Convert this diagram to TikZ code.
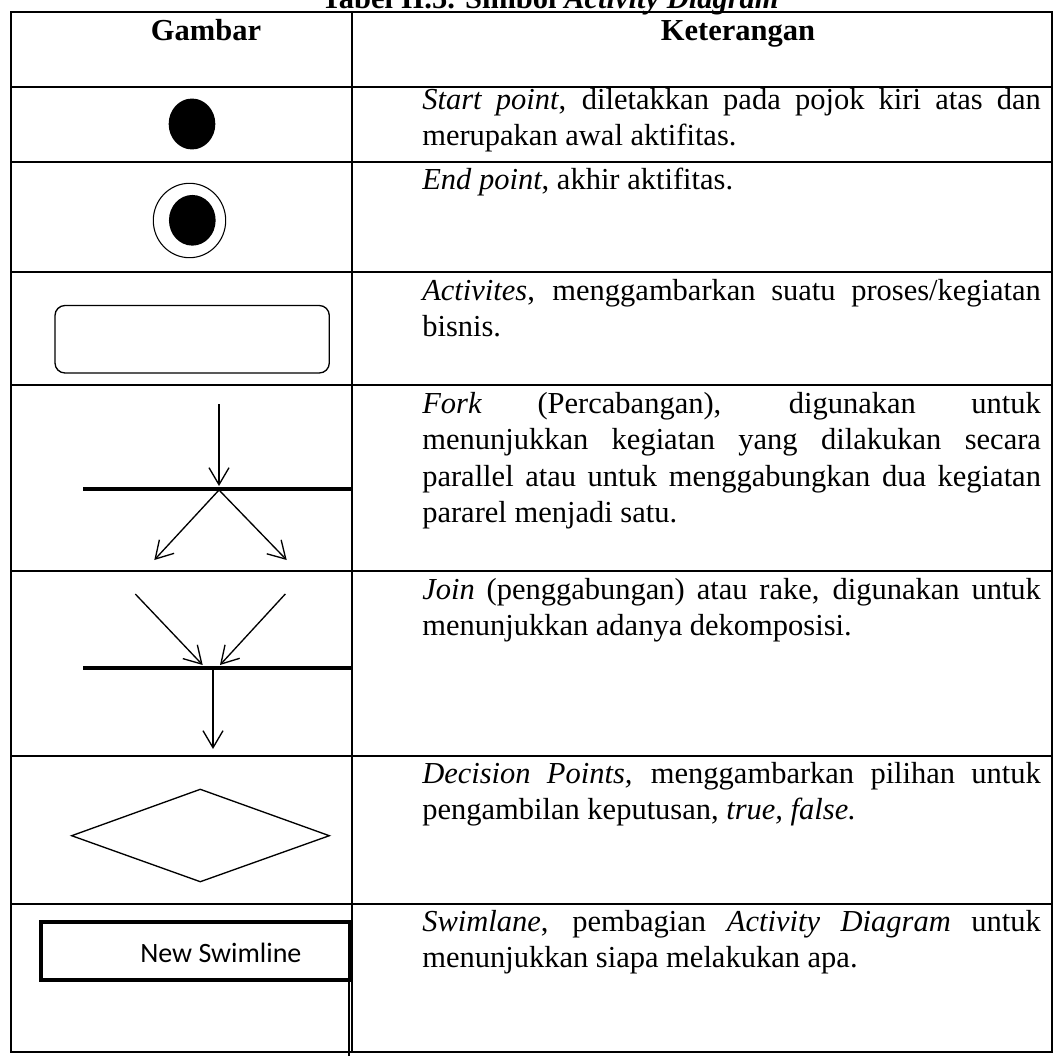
\documentclass[tikz,border=0pt]{standalone}
\usepackage{fontspec}
\setmainfont{Liberation Serif}
\newfontfamily\swimfont{Carlito}
\usetikzlibrary{arrows.meta,shapes.geometric}
\newcommand{\jl}[1]{{\spaceskip=0pt\xspaceskip=0pt\makebox[464pt][s]{#1}}}
\begin{document}
\begin{tikzpicture}[x=0.75pt,y=-0.75pt,
  grid/.style={line width=1.5pt},
  thinshape/.style={line width=1pt},
  barline/.style={line width=2.5pt},
  flow/.style={line width=1pt,-{Straight Barb[length=12.75pt,width=15pt]}},
  body/.style={anchor=north west, inner sep=0pt, text width=464pt, align=justify,
    font=\fontsize{22.875pt}{27.375pt}\selectfont},
  head/.style={anchor=base, inner sep=0pt, font=\fontsize{22.875pt}{27.375pt}\selectfont\bfseries}]
\useasboundingbox (0,0) rectangle (1054,1056);

% table grid
\draw[grid] (11,12) rectangle (1052,1052);
\draw[grid] (352,12) -- (352,1052);
\foreach \yy in {87,162,272,385,571,756,904} \draw[grid] (11,\yy) -- (1052,\yy);

% title and header
\node[head] (title) at (550,9) {Tabel II.5. Simbol \textit{Activity Diagram}};
\node[head] (gambar) at (206,41) {Gambar};
\node[head] (ket) at (738,41) {Keterangan};

% start point
\node[ellipse, fill=black, inner sep=0pt, minimum width=35pt, minimum height=38.2pt] (start) at (192,124) {};
% end point
\node[ellipse, draw, line width=0.8pt, inner sep=0pt, minimum width=54.3pt, minimum height=55.8pt] (endouter) at (189.5,220.5) {};
\node[ellipse, fill=black, inner sep=0pt, minimum width=35pt, minimum height=38pt] (endinner) at (192.3,220.3) {};

% activity
\draw[thinshape, rounded corners=7.5pt] (55,305.5) rectangle (329.3,373);

% fork
\coordinate (fa) at (219,404);
\coordinate (fb) at (219,486);
\coordinate (fc) at (219,490);
\coordinate (fl) at (154.3,560);
\coordinate (fr) at (286.7,560);
\coordinate (fbarl) at (83,489);
\coordinate (fbarr) at (352,489);
\draw[barline] (fbarl) -- (fbarr);
\draw[flow] (fa) -- (fb);
\draw[flow] (fc) -- (fl);
\draw[flow] (fc) -- (fr);

% join
\coordinate (jl1) at (135.3,594);
\coordinate (jl2) at (202.7,665);
\coordinate (jr1) at (285.3,594);
\coordinate (jr2) at (220,665);
\coordinate (jbarl) at (83,668);
\coordinate (jbarr) at (352,668);
\coordinate (jd1) at (213,669);
\coordinate (jd2) at (213,749);
\draw[barline] (jbarl) -- (jbarr);
\draw[flow] (jl1) -- (jl2);
\draw[flow] (jr1) -- (jr2);
\draw[flow] (jd1) -- (jd2);

% decision
\draw[thinshape] (71.7,835.7) -- (200.3,789.3) -- (329.3,835.7) -- (200.3,881.7) -- cycle;

% swimlane
\draw[line width=3pt] (41,922) rectangle (349.5,980);
\draw[line width=1.5pt] (349,980) -- (349,1056);
\node[anchor=base west, inner sep=0pt, font=\swimfont\fontsize{21pt}{25pt}\selectfont] (swtext) at (140,962) {New Swimline};

% descriptions
\node[body] (t1) at (422,83.4) {\jl{\strut\textit{Start point}, diletakkan pada pojok kiri atas dan}\\ merupakan awal aktifitas.};
\node[body] (t2) at (422,163.4) {\strut\textit{End point}, akhir aktifitas.};
\node[body] (t3) at (422,274.4) {\jl{\strut\textit{Activites}, menggambarkan suatu proses/kegiatan}\\ bisnis.};
\node[body] (t4) at (422,387.4) {\jl{\strut\textit{Fork} (Percabangan), digunakan untuk}\\ \jl{menunjukkan kegiatan yang dilakukan secara}\\ \jl{parallel atau untuk menggabungkan dua kegiatan}\\ pararel menjadi satu.};
\node[body] (t5) at (422,573.4) {\jl{\strut\textit{Join} (penggabungan) atau rake, digunakan untuk}\\ menunjukkan adanya dekomposisi.};
\node[body] (t6) at (422,757.4) {\jl{\strut\textit{Decision Points,} menggambarkan pilihan untuk}\\ pengambilan keputusan, \textit{true, false.}};
\node[body] (t7) at (422,905.4) {\jl{\strut\textit{Swimlane}, pembagian \textit{Activity Diagram} untuk}\\ menunjukkan siapa melakukan apa.};
\end{tikzpicture}
\end{document}
